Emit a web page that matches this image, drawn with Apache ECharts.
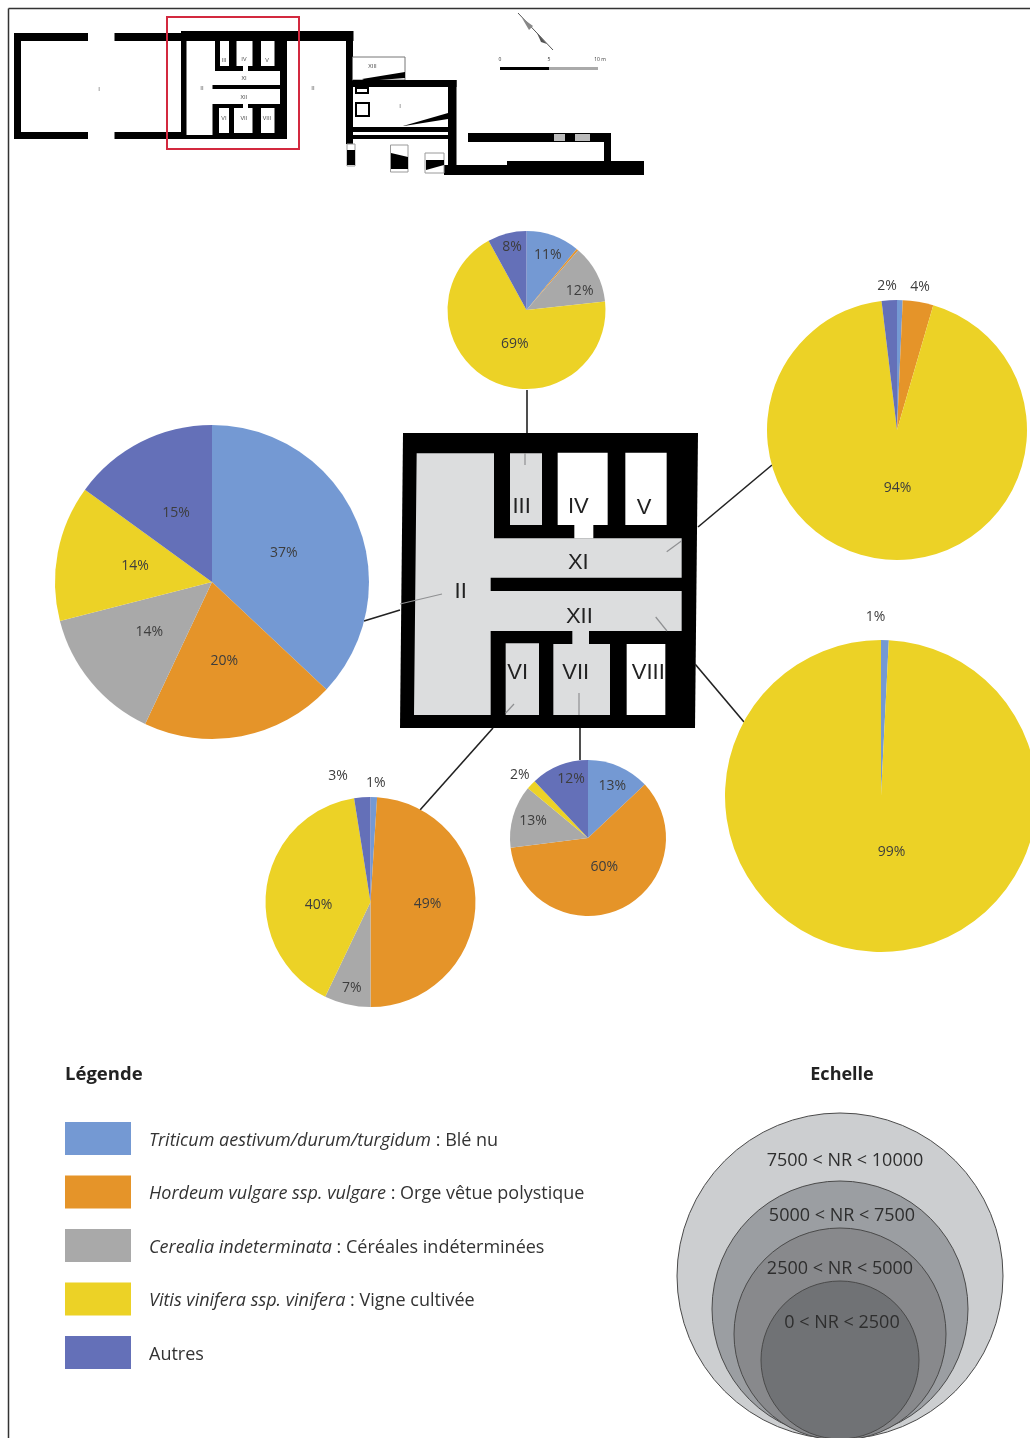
<!DOCTYPE html>
<html><head><meta charset="utf-8">
<style>html,body{margin:0;padding:0;background:#fff}#c{width:1030px;height:1438px;filter:blur(0.6px)}</style>
<script src="https://cdn.jsdelivr.net/npm/echarts@6/dist/echarts.min.js"></script>
</head><body><div id="c"></div>
<script>
// ---- data: taxa, in drawing order ----
const taxa = ['Triticum', 'Hordeum', 'Cerealia', 'Vitis', 'Autres'];
const legendItalic = ['Triticum aestivum/durum/turgidum', 'Hordeum vulgare ssp. vulgare', 'Cerealia indeterminata', 'Vitis vinifera ssp. vinifera', ''];
const legendPlain = [' : Blé nu', ' : Orge vêtue polystique', ' : Céréales indéterminées', ' : Vigne cultivée', 'Autres'];
const roomII   = [37, 20, 14, 14, 15];
const roomIII  = [11, 0.4, 12, 69, 8];
const roomXI   = [0.7, 3.8, 0, 93.6, 1.9];
const roomXII  = [0.8, 0, 0, 99.2, 0];
const roomVI   = [1, 49, 7.1, 40.4, 2.5];
const roomVII  = [13, 60, 13, 2, 12];
const scaleLabels = ['7500 < NR < 10000', '5000 < NR < 7500', '2500 < NR < 5000', '0 < NR < 2500'];
const planRooms = ['II', 'III', 'IV', 'V', 'VI', 'VII', 'VIII', 'XI', 'XII'];

// ---- style ----
const colors = { Triticum: '#7499d3', Hordeum: '#e59429', Cerealia: '#a9a9a9', Vitis: '#ecd226', Autres: '#6470b8' };
const FONT = '"Open Sans", "Noto Sans", sans-serif';
const pies = [
  { name: 'II',  values: roomII,  center: [212, 582],   r: 157, nudge: [[-3,3],[-3,-1],[0,-2],[3,-1],[1,4]] },
  { name: 'III', values: roomIII, center: [526.5, 310], r: 79,  nudge: [[7,-15],[0,0],[15.5,1],[8,-4],[-4,-22]] },
  { name: 'XI',  values: roomXI,  center: [897, 430],   r: 130, nudge: [[0,0],[12,-76],[0,0],[6,-10],[-6,-76]] },
  { name: 'XII', values: roomXII, center: [881, 796],   r: 156, nudge: [[-7.5,-98],[0,0],[0,0],[12.5,-25],[0,0]] },
  { name: 'VI',  values: roomVI,  center: [370.5, 902], r: 105, nudge: [[3.5,-63.5],[1.5,0],[-6.5,32],[3,10.6],[-28,-71]] },
  { name: 'VII', values: roomVII, center: [588, 838],   r: 78,  nudge: [[7.5,-13],[-1.6,-9],[-14.6,-5],[-37.6,-34],[-1.6,-20]] }
];

const series = pies.map(p => ({
  type: 'pie', name: p.name, center: p.center, radius: [0, p.r], startAngle: 90, clockwise: true,
  silent: true, animation: false, avoidLabelOverlap: false, stillShowZeroSum: false, z: 5,
  data: taxa.map((t, i) => ({ name: t, value: p.values[i], itemStyle: { color: colors[t] } })),
  label: { show: true, position: 'inner', fontFamily: FONT, fontSize: 14, color: '#3d3d3d',
    formatter: d => d.value >= 0.75 ? Math.round(d.value) + '%' : '' },
  labelLine: { show: false },
  labelLayout: params => ({ dx: p.nudge[params.dataIndex][0], dy: p.nudge[params.dataIndex][1] })
}));

// ---- drawn site plan and decorations ----
const g = [];
const rect = (x0, y0, x1, y1, fill, extra) => g.push(Object.assign({ type: 'rect', shape: { x: x0, y: y0, width: x1 - x0, height: y1 - y0 }, style: { fill } }, extra || {}));
const poly = (pts, fill) => g.push({ type: 'polygon', shape: { points: pts }, style: { fill } });
const line = (x1, y1, x2, y2, stroke, w) => g.push({ type: 'line', shape: { x1, y1, x2, y2 }, style: { stroke, lineWidth: w } });
const txt = (x, y, text, size, o) => g.push({ type: 'text', x, y, style: Object.assign({ text, fontSize: size, fontFamily: FONT, fill: '#333', align: 'center', verticalAlign: 'middle' }, o || {}) });
const circ = (cx, cy, r, fill) => g.push({ type: 'circle', shape: { cx, cy, r }, style: { fill, stroke: '#4a4a4a', lineWidth: 1 } });

// page frame
line(8.5, 8.5, 1030, 8.5, '#333', 1.5);
line(8.5, 8.5, 8.5, 1438, '#333', 1.5);

// overview plan (top)
const K = '#000', GR = '#9a9a9a';
rect(14, 33, 88, 41, K); rect(14, 33, 21, 139, K); rect(14, 132, 88, 139, K);
rect(114.5, 33, 181, 41, K); rect(114.5, 132, 181, 139, K);
rect(181, 31, 353.5, 41, K); rect(181, 31, 186.5, 139, K); rect(280, 41, 287, 139, K); rect(181, 135, 287, 139, K);
rect(215, 41, 287, 71, K); rect(220, 41, 229, 66, '#fff'); rect(236.5, 41, 252.5, 66, '#fff'); rect(261, 41, 274.5, 66, '#fff'); rect(243, 66, 248, 71, '#fff');
rect(212.5, 85, 280, 89, K);
rect(212.5, 104, 287, 135, K); rect(219, 108, 229, 133, '#fff'); rect(234, 108, 252.5, 133, '#fff'); rect(261, 108, 274.5, 133, '#fff'); rect(243, 104, 248, 108, '#fff');
rect(346, 31, 353, 144, K);
g.push({ type: 'rect', shape: { x: 352.5, y: 57, width: 52.5, height: 23 }, style: { fill: '#fff', stroke: '#777', lineWidth: 1 } });
poly([[362, 79], [405, 72], [405, 78], [366, 81]], K);
rect(353, 80, 456.5, 87, K); rect(448, 80, 456.5, 175, K);
rect(351, 127, 448, 132, K); rect(351, 135, 448, 139, K);
g.push({ type: 'rect', shape: { x: 356, y: 88, width: 12, height: 5 }, style: { fill: '#fff', stroke: K, lineWidth: 2 } });
g.push({ type: 'rect', shape: { x: 356, y: 103, width: 13, height: 13 }, style: { fill: '#fff', stroke: K, lineWidth: 2 } });
poly([[403, 126], [448, 113], [448, 119], [404, 126]], K);
rect(444, 165, 644, 175, K); rect(507, 161, 644, 175, K);
rect(468, 133, 611, 142, K); rect(604, 133, 611, 170, K); rect(554, 134, 565, 141, '#bbb'); rect(575, 134, 590, 141, '#bbb');
g.push({ type: 'rect', shape: { x: 347, y: 144, width: 8, height: 22 }, style: { fill: '#fff', stroke: GR, lineWidth: 1 } });
rect(347, 150, 355, 165, K);
g.push({ type: 'rect', shape: { x: 390.5, y: 145, width: 17.5, height: 27 }, style: { fill: '#fff', stroke: GR, lineWidth: 1 } });
poly([[391, 153], [408, 157], [408, 169], [391, 169]], K);
g.push({ type: 'rect', shape: { x: 425, y: 153, width: 19, height: 20 }, style: { fill: '#fff', stroke: GR, lineWidth: 1 } });
poly([[426, 160], [444, 160], [444, 165], [426, 170]], K);
// red locator
g.push({ type: 'rect', shape: { x: 167, y: 17, width: 132, height: 132 }, style: { fill: 'none', stroke: '#d3293f', lineWidth: 2 } });
[[99, 89, 'I'], [202, 88, 'II'], [224, 60, 'III'], [244, 59, 'IV'], [267, 60, 'V'], [244, 78, 'XI'], [244, 97, 'XII'], [313, 88, 'II'], [224, 118, 'VI'], [244, 118, 'VII'], [267, 118, 'VIII'], [372.5, 66, 'XIII'], [400, 106, 'I']]
  .forEach(a => txt(a[0], a[1], a[2], 6, { fill: '#444' }));
// north arrow and scale bar
line(518, 13, 553, 50, '#555', 1);
poly([[522, 18], [533, 26], [529, 30]], '#888'); poly([[537, 33], [547, 44], [541, 42]], '#555');
rect(500, 67, 549, 70, K); rect(549, 67, 598, 70, '#aaa');
txt(500, 60, '0', 5); txt(549, 60, '5', 5); txt(600, 60, '10 m', 5);

// detailed plan (centre) — Z maps the plan's local grid to the page
const Z = (x, y) => [390 + x / 3, 420 + y / 3];
const zr = (a, b, c, d, fill) => rect(390 + a / 3, 420 + b / 3, 390 + c / 3, 420 + d / 3, fill);
const LG = '#dcddde';
poly([[403, 433], [698, 433], [695, 728], [400, 728]], K);
poly([[80, 100], [312, 100], [312, 355], [875, 355], [875, 473], [302, 473], [302, 513], [875, 513], [875, 633], [302, 633], [302, 885], [72, 885]].map(p => Z(p[0], p[1])), LG);
zr(360, 100, 456, 315, LG);
zr(503, 98, 653, 315, '#fff'); zr(553, 315, 610, 355, '#fff');
zr(706, 98, 830, 315, '#fff');
zr(347, 670, 447, 885, LG);
zr(490, 672, 660, 885, LG); zr(547, 633, 597, 672, LG);
zr(710, 672, 826, 885, '#fff');
const roomPos = [[212, 515], [395, 261], [565, 261], [762, 265], [383, 758], [557, 758], [775, 758], [565, 428], [568, 590]];
planRooms.forEach((t, i) => { const q = Z(roomPos[i][0], roomPos[i][1]); txt(q[0], q[1], t, 22, { fontFamily: '"Liberation Sans", sans-serif', fill: '#222' }); });

// leader lines
[[364, 621, 400, 610], [527, 390, 527, 433], [772, 465, 698, 527], [744, 722, 695, 664], [420, 810, 493, 728], [580, 760, 580, 728]]
  .forEach(a => line(a[0], a[1], a[2], a[3], '#222', 1.6));
[[400, 604, 442, 594], [525, 453, 525, 465], [681.7, 540.7, 666.7, 551.7], [655.7, 617, 667, 631], [505.7, 713, 514, 704], [579, 693, 579, 715]]
  .forEach(a => line(a[0], a[1], a[2], a[3], '#8f9092', 1.2));

// legend / scale headings
txt(65, 1075, 'Légende', 18.5, { align: 'left', fontWeight: 'bold', fill: '#222' });
txt(842, 1075, 'Echelle', 18, { fontWeight: 'bold', fill: '#222' });

// scale circles
circ(840, 1276, 163, '#ccced0');
circ(840, 1309, 128, '#9b9ea2');
circ(840, 1334, 106, '#88898c');
circ(840, 1360, 79, '#707275');
const scalePos = [[845, 1161], [842, 1216], [840, 1269], [842, 1323]];
scaleLabels.forEach((t, i) => txt(scalePos[i][0], scalePos[i][1], t, 18, { fill: '#2e2e2e' }));

const chart = echarts.init(document.getElementById('c'), null, { renderer: 'canvas' });
chart.setOption({
  backgroundColor: '#fff',
  animation: false,
  legend: {
    data: taxa, orient: 'vertical', left: 65, top: 1122, padding: 0, itemWidth: 66, itemHeight: 33, itemGap: 20.5,
    icon: 'rect', selectedMode: false,
    formatter: n => { const i = taxa.indexOf(n); return '{gap|}' + (legendItalic[i] ? '{i|' + legendItalic[i] + '}' : '') + '{n|' + legendPlain[i] + '}'; },
    textStyle: { fontFamily: FONT, fontSize: 18, color: '#333',
      rich: { gap: { width: 13 },
        i: { fontStyle: 'italic', fontFamily: FONT, fontSize: 18, color: '#333', padding: [4, 0, 0, 0] },
        n: { fontFamily: FONT, fontSize: 18, color: '#333', padding: [4, 0, 0, 0] } } }
  },
  graphic: { elements: g },
  series
});
</script></body></html>
